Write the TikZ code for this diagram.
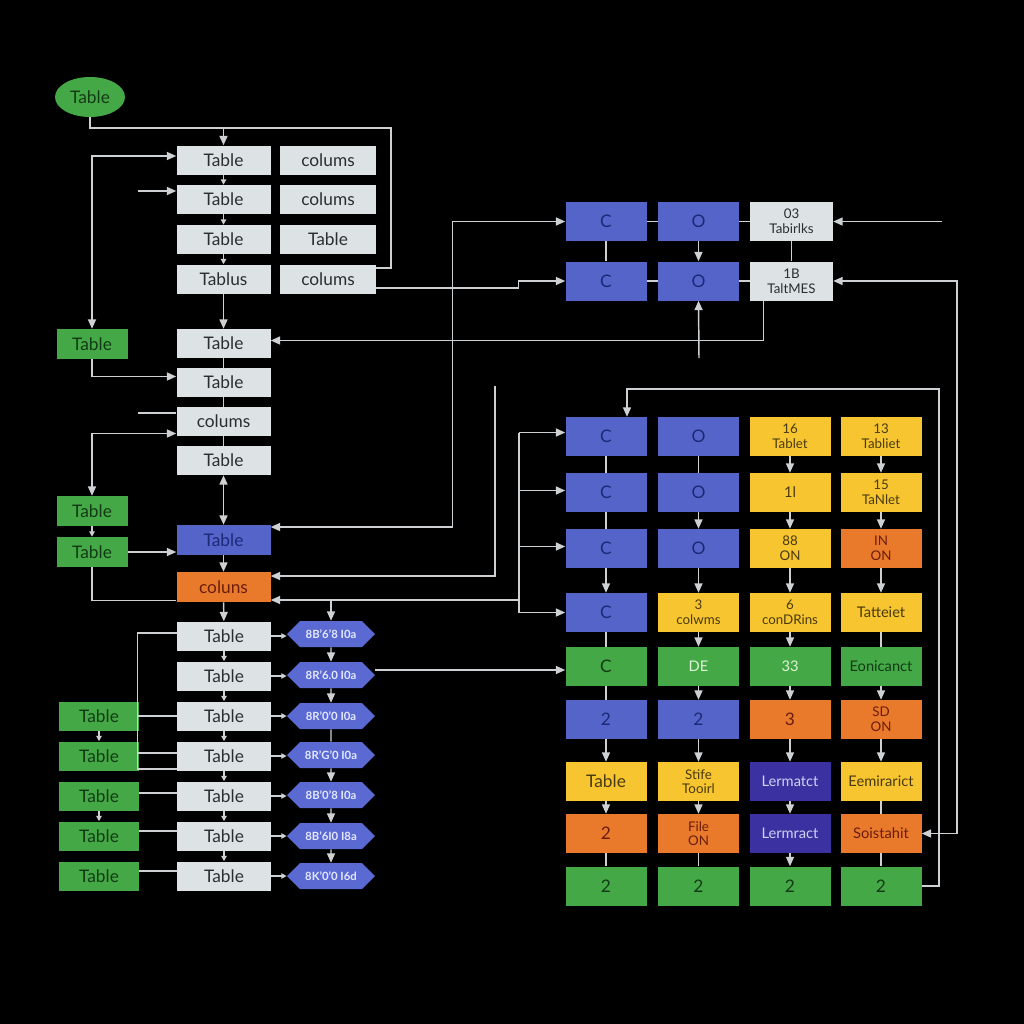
\documentclass[tikz,border=0pt]{standalone}
\usepackage{fontspec}
\setmainfont{Lato}
\usetikzlibrary{arrows.meta,shapes.geometric,shapes.symbols,calc}
\definecolor{lgc}{HTML}{DDE2E5}
\definecolor{lgt}{HTML}{2A2E33}
\definecolor{grn}{HTML}{45A846}
\definecolor{grnt}{HTML}{123A14}
\definecolor{grnl}{HTML}{DDF2D6}
\definecolor{blu}{HTML}{5564C8}
\definecolor{blut}{HTML}{1C2878}
\definecolor{org}{HTML}{E97A2C}
\definecolor{orgt}{HTML}{6A1D0A}
\definecolor{yel}{HTML}{F6C530}
\definecolor{yelt}{HTML}{4A3A10}
\definecolor{ind}{HTML}{3B31A0}
\definecolor{indt}{HTML}{D0D2F4}
\definecolor{hexc}{HTML}{5A6AD2}
\definecolor{hext}{HTML}{E4E8FF}
\definecolor{lineg}{HTML}{CDD1D4}
\begin{document}
\begin{tikzpicture}[x=0.75pt,y=-0.75pt,
  ln/.style={draw=lineg,line width=1.1pt},
  ar/.style={ln,-{Triangle[length=7pt,width=6pt]}},
  dar/.style={ln,{Triangle[length=7pt,width=6pt]}-{Triangle[length=7pt,width=6pt]}},
  sar/.style={ln,-{Triangle[length=4pt,width=4pt]}},
  box/.style={rectangle,inner sep=0pt,align=center,font=\fontsize{13}{14}\selectfont},
  lb/.style={box,fill=lgc,text=lgt,minimum width=70.5pt,minimum height=21.75pt},
  lbw/.style={lb,minimum width=72pt},
  gb/.style={box,fill=grn,text=grnt,minimum width=53.25pt,minimum height=22.5pt},
  glb/.style={gb,minimum width=60pt,minimum height=21.75pt},
  blb/.style={box,fill=blu,text=blut,minimum width=70.5pt,minimum height=22.5pt},
  olb/.style={box,fill=org,text=orgt,minimum width=70.5pt,minimum height=22.5pt},
  hx/.style={signal,signal to=west and east,fill=hexc,text=hext,minimum width=66pt,
    minimum height=19.5pt,inner sep=0pt,font=\fontsize{8.5}{9}\selectfont\bfseries},
  cell/.style={box,minimum width=60.75pt,minimum height=29.25pt},
  two/.style={font=\fontsize{10}{11}\selectfont},
  sm/.style={font=\fontsize{11}{12}\selectfont},
  cb/.style={cell,fill=blu,text=blut},
  cy/.style={cell,fill=yel,text=yelt},
  co/.style={cell,fill=org,text=orgt},
  cg/.style={cell,fill=grn,text=grnt},
  ci/.style={cell,fill=ind,text=indt},
  tc/.style={cell,fill=lgc,text=lgt,minimum width=62.25pt}
]
\fill[black] (0,0) rectangle (1024,1024);

% ---------- top left ----------
\node[ellipse,fill=grn,text=grnt,inner sep=0pt,minimum width=52.5pt,minimum height=30pt,
  font=\fontsize{13}{14}\selectfont] (e) at (90,97) {Table};
\node[lb] (A1) at (223.5,160) {Table};
\node[lb] (A2) at (223.5,199.5) {Table};
\node[lb] (A3) at (223.5,239.5) {Table};
\node[lb] (A4) at (223.5,279) {Tablus};
\node[lbw] (B1) at (328,160) {colums};
\node[lbw] (B2) at (328,199.5) {colums};
\node[lbw] (B3) at (328,239.5) {Table};
\node[lbw] (B4) at (328,279) {colums};
\node[lb] (A5) at (223.5,343.5) {Table};
\node[lb] (A6) at (223.5,382.5) {Table};
\node[lb] (A7) at (223.5,421.5) {colums};
\node[lb] (A8) at (223.5,460.5) {Table};
\node[blb] (BT) at (223.5,540) {Table};
\node[olb] (OR) at (223.5,587) {coluns};
\node[gb] (G1) at (92,344) {Table};
\node[gb] (G2) at (92,511) {Table};
\node[gb] (G3) at (92,552) {Table};

% ---------- lower left ----------
\node[lb] (L1) at (224,636) {Table};
\node[lb] (L2) at (224,676) {Table};
\node[lb] (L3) at (224,716) {Table};
\node[lb] (L4) at (224,756) {Table};
\node[lb] (L5) at (224,796) {Table};
\node[lb] (L6) at (224,836) {Table};
\node[lb] (L7) at (224,876) {Table};
\node[hx] (H1) at (331,634) {8B'6'8 I0a};
\node[hx] (H2) at (331,675) {8R'6.0 I0a};
\node[hx] (H3) at (331,716) {8R'0'0 I0a};
\node[hx] (H4) at (331,755) {8R'G'0 I0a};
\node[hx] (H5) at (331,795) {8B'0'8 I0a};
\node[hx] (H6) at (331,836) {8B'6I0 I8a};
\node[hx] (H7) at (331,876) {8K'0'0 I6d};
\node[glb] (GL1) at (99,716) {Table};
\node[glb] (GL2) at (99,756) {Table};
\node[glb] (GL3) at (99,796) {Table};
\node[glb] (GL4) at (99,836) {Table};
\node[glb] (GL5) at (99,876) {Table};

% ---------- top right ----------
\node[cb] (C1) at (606,221.5) {C};
\node[cb] (O1) at (698.5,221.5) {O};
\node[tc,two] (T1) at (791.5,221.5) {03\\Tabirlks};
\node[cb] (C2) at (606,281) {C};
\node[cb] (O2) at (698.5,281) {O};
\node[tc,two] (T2) at (791.5,281) {1B\\TaltMES};

% ---------- grid ----------
\node[cb] (g11) at (606,436.5) {C};
\node[cb] (g12) at (698.5,436.5) {O};
\node[cy,two] (g13) at (790,436.5) {16\\Tablet};
\node[cy,two] (g14) at (881,436.5) {13\\Tabliet};
\node[cb] (g21) at (606,492.5) {C};
\node[cb] (g22) at (698.5,492.5) {O};
\node[cy,sm] (g23) at (790,492.5) {1l};
\node[cy,two] (g24) at (881,492.5) {15\\TaNlet};
\node[cb] (g31) at (606,548.5) {C};
\node[cb] (g32) at (698.5,548.5) {O};
\node[cy,two] (g33) at (790,548.5) {88\\ON};
\node[co,two] (g34) at (881,548.5) {IN\\ON};
\node[cb] (g41) at (606,612.5) {C};
\node[cy,two] (g42) at (698.5,612.5) {3\\colwms};
\node[cy,two] (g43) at (790,612.5) {6\\conDRins};
\node[cy,sm] (g44) at (881,612.5) {Tatteiet};
\node[cg] (g51) at (606,666.5) {C};
\node[cg,sm,text=grnl] (g52) at (698.5,666.5) {DE};
\node[cg,sm,text=grnl] (g53) at (790,666.5) {33};
\node[cg,sm] (g54) at (881,666.5) {Eonicanct};
\node[cb] (g61) at (606,719.5) {2};
\node[cb] (g62) at (698.5,719.5) {2};
\node[co] (g63) at (790,719.5) {3};
\node[co,two] (g64) at (881,719.5) {SD\\ON};
\node[cy] (g71) at (606,781.5) {Table};
\node[cy,two] (g72) at (698.5,781.5) {Stife\\Tooirl};
\node[ci,sm] (g73) at (790,781.5) {Lermatct};
\node[cy,sm] (g74) at (881,781.5) {Eemirarict};
\node[co] (g81) at (606,833.5) {2};
\node[co,two] (g82) at (698.5,833.5) {File\\ON};
\node[ci,sm] (g83) at (790,833.5) {Lermract};
\node[co,sm] (g84) at (881,833.5) {Soistahit};
\node[cg] (g91) at (606,886) {2};
\node[cg] (g92) at (698.5,886) {2};
\node[cg] (g93) at (790,886) {2};
\node[cg] (g94) at (881,886) {2};

% ---------- connectors: top left ----------
\draw[ln] (e.south) |- (391,128) |- ($(B4.east)+(0,-11)$);
\draw[ar] (A1.north |- 0,128) -- (A1.north);
\draw[dar] ($(A1.west)+(0,-4)$) -| (G1.north);
\coordinate (s1) at (138,191);
\draw[ar] (s1) -- (s1 -| A2.west);
\draw[sar] (A1) -- (A2);
\draw[sar] (A2) -- (A3);
\draw[sar] (A3) -- (A4);
\draw[ar] (A4) -- (A5);
\draw[ln] (A5) -- (A6);
\draw[ln] (A6) -- (A7);
\draw[ln] (A7) -- (A8);
\draw[dar] (A8) -- (BT);
\draw[ar] (BT) -- (OR);
\draw[ar] (G1.south) |- ($(A6.west)+(0,-6)$);
\coordinate (s2) at (138,413);
\draw[ln] (s2) -- (s2 -| A7.west);
\draw[dar] ($(A7.west)+(0,12)$) -| (G2.north);
\draw[sar] (G2) -- (G3);
\draw[ar] (G3.east) -- (G3.east -| BT.west);
\draw[ln] (G3.south) |- ($(OR.south west)+(0,-2)$);

% ---------- connectors: long ones ----------
\draw[ar] ($(T2.south west)+(14,0)$) |- ($(A5.east)+(0,-3)$);
\draw[dar] ($(BT.east)+(0,-13)$) -| ($(C1.west)+(-113,0)$) -- (C1.west);
\coordinate (f1) at (495,386);
\draw[ar] (f1) |- ($(OR.east)+(0,-11)$);
\coordinate (br) at (519,600);
\draw[ar] (br) -- (br -| OR.east);
\draw[ln] ($(g11.west -| br)+(0,-4)$) -- (g41.west -| br);
\draw[ar] ($(g11.west -| br)+(0,-4)$) -- ($(g11.west)+(0,-4)$);
\draw[ar] ($(g21.west -| br)+(0,-2)$) -- ($(g21.west)+(0,-2)$);
\draw[ar] ($(g31.west -| br)+(0,-2)$) -- ($(g31.west)+(0,-2)$);
\draw[ar] (g41.west -| br) -- (g41.west);
\draw[ar] (br -| H1.north) -- (H1.north);
\draw[ar] ($(B4.east)+(0,9)$) -| ($(C2.west)+(-47,0)$) -- (C2.west);
\coordinate (f2) at (699,358);
\draw[ar] (f2) -- (O2.south);
\coordinate (f3) at (942,221.5);
\draw[ar] (f3) -- (T1.east);
\draw[dar] (T2.east) -| ($(g84.east)+(35,0)$) -- (g84.east);
\draw[ar] (g94.east) -| (939,389) -| ($(g11.north)+(21,0)$);
\draw[ar] ($(H2.east)+(0,-5)$) -- ($(H2.east -| g51.west)+(0,-5)$);

% ---------- top right inner ----------
\draw[ln] (C1) -- (O1);
\draw[ln] (O1) -- (T1);
\draw[ln] (C2) -- (O2);
\draw[ln] (O2) -- (T2);
\draw[ln] (C1) -- (C2);
\draw[ar] (O1) -- (O2);
\draw[ln] (T1) -- (T2);

% ---------- grid verticals ----------
\draw[ln] (g11) -- (g21);
\draw[ln] (g21) -- (g31);
\draw[ar] (g31) -- (g41);
\draw[ln] (g41) -- (g51);
\draw[ln] (g51) -- (g61);
\draw[ar] (g61) -- (g71);
\draw[ar] (g71) -- (g81);
\draw[ln] (g81) -- (g91);
\draw[ln] (g12) -- (g22);
\draw[ar] (g22) -- (g32);
\draw[ar] (g32) -- (g42);
\draw[ar] (g42) -- (g52);
\draw[ar] (g52) -- (g62);
\draw[ar] (g62) -- (g72);
\draw[ar] (g72) -- (g82);
\draw[ln] (g82) -- (g92);
\draw[ar] (g13) -- (g23);
\draw[ar] (g23) -- (g33);
\draw[ar] (g33) -- (g43);
\draw[ar] (g43) -- (g53);
\draw[ar] (g53) -- (g63);
\draw[ar] (g63) -- (g73);
\draw[ar] (g73) -- (g83);
\draw[ar] (g83) -- (g93);
\draw[ar] (g14) -- (g24);
\draw[ar] (g24) -- (g34);
\draw[ar] (g34) -- (g44);
\draw[ln] (g44) -- (g54);
\draw[ar] (g54) -- (g64);
\draw[ar] (g64) -- (g74);
\draw[ln] (g74) -- (g84);
\draw[ln] (g84) -- (g94);

% ---------- lower left ----------
\draw[ar] (OR) -- (L1);
\foreach \i/\j in {1/2,2/3,3/4,4/5,5/6,6/7} {\draw[sar] (L\i) -- (L\j);}
\foreach \i in {1,...,7} {\draw[sar] (L\i.east) -- (L\i.east -| H\i.west);}
\draw[ar] (H1) -- (H2);
\draw[ar] (H2) -- (H3);
\draw[ln] (H3) -- (H4);
\draw[ar] (H4) -- (H5);
\draw[ar] (H5) -- (H6);
\draw[ar] (H6) -- (H7);
\draw[ln] ($(L1.west)+(0,-3)$) -| ($(L4.west)+(-39,13)$) -- ($(L4.west)+(0,13)$);
\draw[ln] (L3.west) -- ++(-39,0);
\draw[ln] ($(L4.west)+(0,-3)$) -- ++(-39,0);
\draw[sar] (GL1) -- (GL2);
\draw[sar] (GL3) -- (GL4);
\draw[ln] ($(GL3.east)+(0,-3)$) -- ($(GL3.east -| L5.west)+(0,-3)$);
\draw[ln] ($(GL4.east)+(0,-5)$) -- ($(GL4.east -| L6.west)+(0,-5)$);
\draw[ln] ($(GL5.east)+(0,-5)$) -- ($(GL5.east -| L7.west)+(0,-5)$);
\end{tikzpicture}
\end{document}
